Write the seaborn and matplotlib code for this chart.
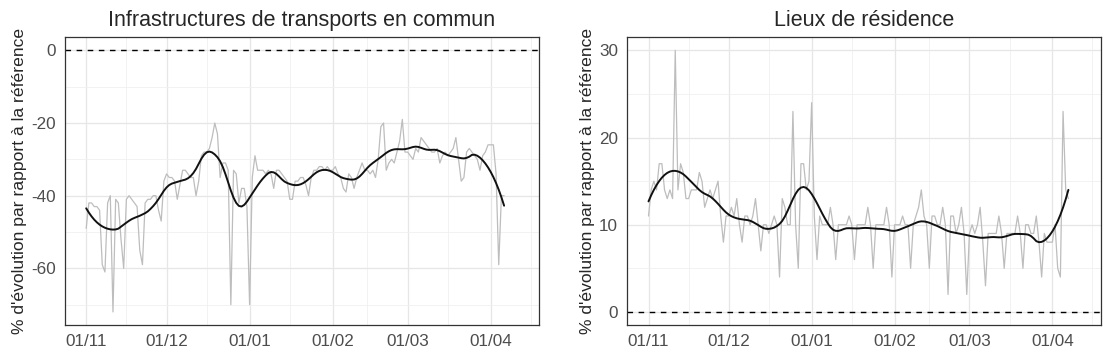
import numpy as np
import pandas as pd
import seaborn as sns
import matplotlib

matplotlib.use("Agg")
import matplotlib.pyplot as plt
import matplotlib.dates as mdates


START = "2020-11-01"

TITLES = ["Infrastructures de transports en commun", "Lieux de résidence"]
YLABEL = "% d'évolution par rapport à la référence"
X_TICKS = ["2020-11-01", "2020-12-01", "2021-01-01", "2021-02-01", "2021-03-01", "2021-04-01"]
Y_TICKS_TRANSIT = [0, -20, -40, -60]
Y_TICKS_RESID = [0, 10, 20, 30]

# daily values (from 01/11)
transit = [
    -49, -42, -42, -43, -43, -44, -59, -61, -42, -40, -72, -41, -42, -52, -60,
    -41, -40, -41, -42, -43, -55, -59, -42, -41, -41, -40, -40, -44, -47, -36,
    -34, -35, -35, -36, -41, -37, -33, -33, -34, -35, -35, -40, -36, -29, -28,
    -28, -27, -24, -20, -23, -35, -31, -31, -33, -70, -33, -34, -42, -38, -38,
    -43, -70, -35, -29, -33, -33, -33, -34, -33, -34, -38, -33, -33, -34, -35,
    -36, -41, -41, -36, -36, -35, -35, -37, -40, -35, -33, -33, -32, -32, -33,
    -32, -33, -33, -32, -34, -35, -38, -39, -34, -35, -38, -35, -33, -31, -33,
    -33, -34, -33, -35, -30, -21, -20, -33, -31, -30, -31, -28, -25, -19, -28,
    -28, -29, -30, -27, -28, -24, -25, -26, -27, -28, -28, -27, -31, -29, -28,
    -29, -28, -27, -24, -30, -36, -35, -28, -27, -28, -29, -30, -33, -29, -28,
    -26, -26, -26, -34, -59, -40, -40,
]

residential = [
    11, 14, 15, 14, 17, 17, 14, 13, 14, 13, 30, 14, 17, 16, 13,
    13, 14, 14, 14, 16, 15, 12, 13, 14, 13, 14, 15, 11, 8, 11,
    11, 12, 11, 13, 10, 8, 11, 11, 10, 11, 13, 10, 7, 10, 10,
    9, 10, 11, 10, 4, 13, 12, 10, 10, 23, 10, 5, 17, 17, 14,
    15, 24, 11, 6, 11, 10, 10, 10, 12, 10, 6, 10, 10, 10, 10,
    11, 10, 6, 10, 10, 10, 10, 12, 10, 5, 10, 10, 10, 10, 12,
    10, 4, 10, 10, 10, 11, 10, 10, 5, 10, 11, 12, 14, 11, 10,
    5, 11, 11, 10, 10, 12, 10, 2, 11, 11, 9, 10, 12, 9, 2,
    9, 10, 9, 10, 12, 8, 3, 9, 9, 9, 9, 11, 9, 5, 9,
    9, 9, 9, 11, 9, 5, 10, 10, 9, 9, 11, 8, 4, 9, 8,
    8, 8, 10, 5, 4, 23, 14, 13,
]


def loess(x, y, span=0.18):
    # local quadratic fit with tricube weights (like R loess)
    x = np.asarray(x, dtype=float)
    y = np.asarray(y, dtype=float)
    q = int(np.floor(span * len(x)))
    fit = np.empty_like(x)
    for i, xi in enumerate(x):
        d = np.abs(x - xi)
        h = np.sort(d)[q - 1]
        w = np.clip(1 - (d / h) ** 3, 0, None) ** 3
        p = np.polyfit(x, y, 2, w=np.sqrt(w))
        fit[i] = np.polyval(p, xi)
    return fit


def make_frame(values):
    df = pd.DataFrame({"date": pd.date_range(START, periods=len(values), freq="D"),
                       "value": values})
    df["smooth"] = loess(np.arange(len(df)), df["value"], span=0.18)
    return df


def style_axis(ax, title, yticks, ylim):
    t0 = pd.Timestamp(START)
    ax.set_xlim(t0 - pd.Timedelta(days=8.05), t0 + pd.Timedelta(days=169.05))
    ax.set_xticks(pd.to_datetime(X_TICKS))
    ax.xaxis.set_major_formatter(mdates.DateFormatter("%d/%m"))
    mids = pd.to_datetime(["2020-11-16", "2020-12-16", "2021-01-16", "2021-02-14",
                           "2021-03-16", "2021-04-16"])
    ax.set_xticks(mids, minor=True)
    ax.set_yticks(yticks)
    step = abs(yticks[1] - yticks[0])
    lo = min(yticks) - step / 2
    ax.set_yticks(np.arange(lo, max(yticks) + step, step), minor=True)
    ax.set_ylim(*ylim)
    ax.grid(which="major", color="#E6E6E6", linewidth=0.9)
    ax.grid(which="minor", color="#F0F0F0", linewidth=0.6)
    ax.tick_params(which="minor", length=0)
    ax.tick_params(which="major", length=3.5, width=0.8, color="#333333",
                   labelsize=12.3, labelcolor="#4D4D4D", pad=3)
    for s in ax.spines.values():
        s.set_color("#333333")
        s.set_linewidth(0.9)
    ax.set_title(title, fontsize=15.5, pad=8)
    ax.set_xlabel("")
    ax.set_ylabel(YLABEL, fontsize=12.6, labelpad=3)
    ax.set_axisbelow(True)


def main():
    sns.set_theme(style="white")
    plt.rcParams["font.family"] = ["Liberation Sans", "DejaVu Sans"]
    plt.rcParams["axes.unicode_minus"] = False

    fig = plt.figure(figsize=(11.2, 3.62), dpi=100)
    ax1 = fig.add_axes([0.0577, 0.1022, 0.4236, 0.7948])
    ax2 = fig.add_axes([0.5598, 0.1022, 0.4229, 0.7948])

    panels = [
        (ax1, transit, TITLES[0], Y_TICKS_TRANSIT, (-75.6, 3.6)),
        (ax2, residential, TITLES[1], Y_TICKS_RESID, (-1.5, 31.5)),
    ]
    for ax, values, title, yticks, ylim in panels:
        df = make_frame(values)
        ax.axhline(0, color="black", linestyle=(0, (4, 4)), linewidth=1.0)
        sns.lineplot(data=df, x="date", y="value", ax=ax, color="#BDBDBD", linewidth=0.9)
        sns.lineplot(data=df, x="date", y="smooth", ax=ax, color="#111111", linewidth=1.4)
        style_axis(ax, title, yticks, ylim)

    fig.savefig("out.png", dpi=100)
    plt.close(fig)


if __name__ == "__main__":
    main()
